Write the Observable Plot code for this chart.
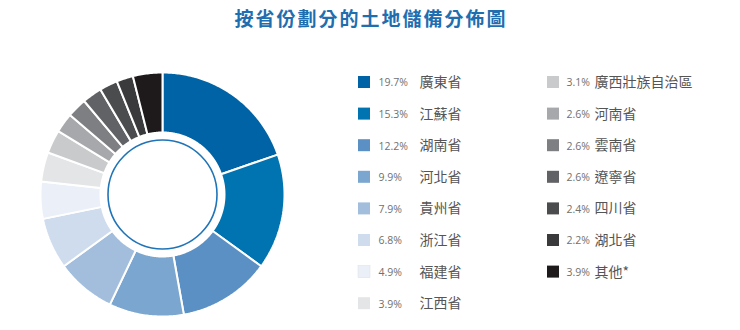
<!DOCTYPE html>
<html><head><meta charset="utf-8">
<script src="https://cdn.jsdelivr.net/npm/d3@7"></script>
<script src="https://cdn.jsdelivr.net/npm/@observablehq/plot@0.6"></script>
<style>
body{margin:0;background:#fff;width:740px;height:330px;overflow:hidden;font-family:"Noto Sans CJK TC","Noto Sans",sans-serif}
#title{height:40px;line-height:36px;text-align:center;color:#1f6eb0;font-size:19px;font-weight:bold;letter-spacing:2px;padding-left:2px}
#chart svg{display:block}
</style></head><body>
<div id="title">按省份劃分的土地儲備分佈圖</div>
<div id="chart"></div>
<script>
const provinces = ["廣東省","江蘇省","湖南省","河北省","貴州省","浙江省","福建省","江西省","廣西壯族自治區","河南省","雲南省","遼寧省","四川省","湖北省","其他*"];
const shares = [19.7,15.3,12.2,9.9,7.9,6.8,4.9,3.9,3.1,2.6,2.6,2.6,2.4,2.2,3.9];
const palette = ["#0063a6","#0073b1","#5b90c4","#7ba6cf","#a3bedd","#cedcee","#ebeff7","#e4e5e6","#c9cacc","#a7a8ab","#7e7f82","#616265","#4b4c4e","#3a3a3c","#1e1a1b"];

const data = provinces.map((name, i) => ({name, share: shares[i], color: palette[i], i}));

const W = 740, H = 290;
const cx = 162, cy = 154, R = 122, r0 = 62, ringR = 54.5;

const arcs = d3.pie().sort(null).value(d => d.share)(data);
const pts = [];
for (const a of arcs) {
  const n = Math.max(4, Math.ceil((a.endAngle - a.startAngle) * 80));
  for (let k = 0; k <= n; k++) {
    const t = a.startAngle + (a.endAngle - a.startAngle) * k / n;
    pts.push({name: a.data.name, color: a.data.color, x: cx + R * Math.sin(t), y: cy - R * Math.cos(t)});
  }
  for (let k = n; k >= 0; k--) {
    const t = a.startAngle + (a.endAngle - a.startAngle) * k / n;
    pts.push({name: a.data.name, color: a.data.color, x: cx + r0 * Math.sin(t), y: cy - r0 * Math.cos(t)});
  }
  const t = a.startAngle;
  pts.push({name: a.data.name, color: a.data.color, x: cx + R * Math.sin(t), y: cy - R * Math.cos(t)});
}

const leg = data.map(d => {
  const col = d.i < 8 ? 0 : 1;
  const row = col === 0 ? d.i : d.i - 8;
  return {...d, col, yc: 42 + row * 31.6,
    sx: col === 0 ? 358 : 547,
    px: col === 0 ? 378 : 566,
    nx: col === 0 ? 419 : 594,
    label: d.share.toFixed(1) + "%"};
});

const chart = Plot.plot({
  width: W, height: H,
  margin: 0,
  x: {domain: [0, W], range: [0, W], axis: null},
  y: {domain: [0, H], range: [0, H], axis: null},
  color: {type: "identity"},
  marks: [
    Plot.line(pts, {x: "x", y: "y", z: "name", fill: "color", stroke: "white", strokeWidth: 2, strokeLinejoin: "miter", curve: "linear"}),
    Plot.dot([{x: cx, y: cy}], {x: "x", y: "y", r: ringR, stroke: "#1f74b8", strokeWidth: 1.6, fill: "none"}),
    Plot.rect(leg, {x1: d => d.sx, x2: d => d.sx + 12, y1: d => d.yc - 6, y2: d => d.yc + 6, fill: "color", stroke: "#dddddd", strokeWidth: 0.5, strokeOpacity: d => d.i === 6 ? 1 : 0}),
    Plot.text(leg, {x: "px", y: "yc", text: "label", textAnchor: "start", fontSize: 10.5, fill: "#707070", fontFamily: "'Open Sans', sans-serif", dy: 0.5, style: "letter-spacing:-0.3px"}),
    Plot.text(leg, {x: "nx", y: "yc", text: "name", textAnchor: "start", fontSize: 14, fill: "#555555", fontFamily: "'Noto Sans CJK TC', sans-serif", dy: 0})
  ]
});
document.getElementById("chart").appendChild(chart);
</script>
</body></html>
